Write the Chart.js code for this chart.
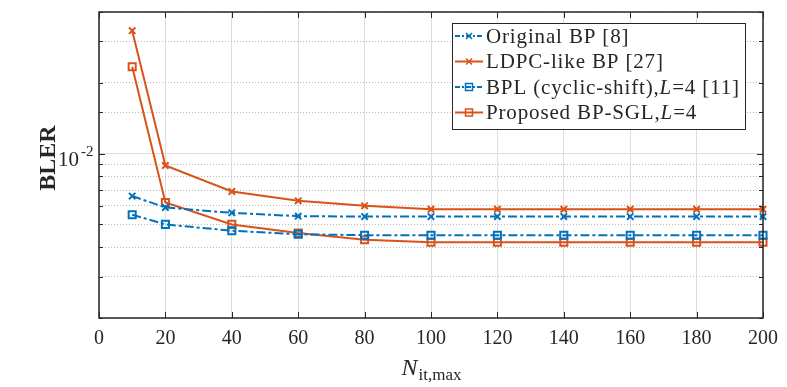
<!DOCTYPE html>
<html>
<head>
<meta charset="utf-8">
<script src="https://cdn.jsdelivr.net/npm/chart.js@4.4.1/dist/chart.umd.min.js"></script>
<style>
  html, body { margin: 0; padding: 0; background: #fff; }
</style>
</head>
<body>
<canvas id="bler" width="787" height="387"></canvas>
<script>
// maximum number of BP iterations
var iterations = [10, 20, 40, 60, 80, 100, 120, 140, 160, 180, 200];

// BLER per decoder
var originalBP  = [0.0066, 0.0059, 0.0056, 0.00542, 0.0054, 0.0054, 0.0054, 0.0054, 0.0054, 0.0054, 0.0054];
var ldpcLikeBP  = [0.0333, 0.0089, 0.0069, 0.0063, 0.0060, 0.0058, 0.0058, 0.0058, 0.0058, 0.0058, 0.0058];
var bplCyclic   = [0.0055, 0.0050, 0.0047, 0.00454, 0.0045, 0.0045, 0.0045, 0.0045, 0.0045, 0.0045, 0.0045];
var proposedSGL = [0.0234, 0.0062, 0.0050, 0.0046, 0.0043, 0.0042, 0.0042, 0.0042, 0.0042, 0.0042, 0.0042];

var xTicks = [0, 20, 40, 60, 80, 100, 120, 140, 160, 180, 200];

var BLUE = '#0072BD';
var ORANGE = '#D95319';
var AXIS = '#262626';
var SERIF = '"Liberation Serif", "DejaVu Serif", serif';
var DASHDOT = [9, 3, 3, 3];

function series(label, values, color, marker, dash) {
  return {
    label: label,
    data: iterations.map(function (it, i) { return { x: it, y: values[i] }; }),
    borderColor: color,
    borderWidth: 2,
    borderDash: dash,
    pointStyle: marker,
    pointRadius: marker === 'rect' ? 5 : 4.5,
    pointBorderWidth: 2,
    pointBorderColor: color,
    pointBackgroundColor: 'rgba(0,0,0,0)',
    fill: false,
    tension: 0,
    clip: false
  };
}

// one legend row: line sample, marker and mixed upright/italic text
var legendRows = [
  { color: BLUE,   dash: DASHDOT, marker: 'x',   parts: [['Original BP [8]', false]] },
  { color: ORANGE, dash: [],      marker: 'x',   parts: [['LDPC-like BP [27]', false]] },
  { color: BLUE,   dash: DASHDOT, marker: 'box', parts: [['BPL (cyclic-shift),', false], ['L', true], ['=4 [11]', false]] },
  { color: ORANGE, dash: [],      marker: 'box', parts: [['Proposed BP-SGL,', false], ['L', true], ['=4', false]] }
];

function drawParts(ctx, parts, x, y, size) {
  ctx.letterSpacing = '0.85px';
  parts.forEach(function (p) {
    ctx.font = (p[1] ? 'italic ' : '') + size + 'px ' + SERIF;
    ctx.fillText(p[0], x, y);
    x += ctx.measureText(p[0]).width;
  });
  ctx.letterSpacing = '0px';
}

var decorations = {
  id: 'decorations',
  afterDraw: function (chart) {
    var ctx = chart.ctx;
    var a = chart.chartArea;
    var xs = chart.scales.x;
    var ys = chart.scales.y;
    ctx.save();

    // inward tick marks on all four sides
    ctx.strokeStyle = AXIS;
    ctx.lineWidth = 1;
    ctx.beginPath();
    xTicks.forEach(function (v) {
      var px = Math.round(xs.getPixelForValue(v)) + 0.5;
      ctx.moveTo(px, a.bottom); ctx.lineTo(px, a.bottom - 6);
      ctx.moveTo(px, a.top); ctx.lineTo(px, a.top + 6);
    });
    ys.ticks.forEach(function (t) {
      var py = Math.round(ys.getPixelForValue(t.value)) + 0.5;
      var len = t.value === 0.01 ? 6 : 4;
      ctx.moveTo(a.left, py); ctx.lineTo(a.left + len, py);
      ctx.moveTo(a.right, py); ctx.lineTo(a.right - len, py);
    });
    ctx.stroke();

    // plot frame
    ctx.lineWidth = 1.5;
    ctx.strokeRect(a.left, a.top, a.right - a.left, a.bottom - a.top);

    // y tick label 10^-2
    var y2 = ys.getPixelForValue(0.01);
    ctx.fillStyle = AXIS;
    ctx.textBaseline = 'alphabetic';
    ctx.textAlign = 'left';
    ctx.font = '21px ' + SERIF;
    ctx.fillText('10', 58, y2 + 12);
    ctx.font = '15px ' + SERIF;
    ctx.fillText('-2', 81, y2 + 2);

    // y axis title
    ctx.save();
    ctx.translate(55, 158);
    ctx.rotate(-Math.PI / 2);
    ctx.textAlign = 'center';
    ctx.font = 'bold 24px ' + SERIF;
    ctx.fillText('BLER', 0, 0);
    ctx.restore();

    // x axis title N_it,max
    ctx.font = 'italic 24px ' + SERIF;
    var wN = ctx.measureText('N').width;
    ctx.font = '17px ' + SERIF;
    var wSub = ctx.measureText('it,max').width;
    var cx = (a.left + a.right) / 2;
    var x0 = cx - (wN + wSub) / 2;
    ctx.font = 'italic 24px ' + SERIF;
    ctx.fillText('N', x0, 375);
    ctx.font = '17px ' + SERIF;
    ctx.fillText('it,max', x0 + wN + 1, 380);

    // legend box
    var bx = 452, by = 23, bw = 293, bh = 106;
    ctx.fillStyle = '#fff';
    ctx.fillRect(bx, by, bw, bh);
    ctx.strokeStyle = AXIS;
    ctx.lineWidth = 1;
    ctx.strokeRect(bx + 0.5, by + 0.5, bw, bh);
    legendRows.forEach(function (r, i) {
      var ry = by + 13 + i * 25.5;
      ctx.strokeStyle = r.color;
      ctx.lineWidth = 2;
      ctx.setLineDash(r.dash.length ? [5, 2, 2, 2] : []);
      ctx.beginPath();
      ctx.moveTo(455, ry); ctx.lineTo(483, ry);
      ctx.stroke();
      ctx.setLineDash([]);
      ctx.lineWidth = 1.5;
      ctx.beginPath();
      if (r.marker === 'x') {
        ctx.moveTo(466, ry - 3); ctx.lineTo(472, ry + 3);
        ctx.moveTo(472, ry - 3); ctx.lineTo(466, ry + 3);
      } else {
        ctx.rect(465.5, ry - 3.5, 7, 7);
      }
      ctx.stroke();
      ctx.fillStyle = AXIS;
      ctx.textBaseline = 'middle';
      drawParts(ctx, r.parts, 486, ry + 1, 21);
    });
    ctx.restore();
  }
};

new Chart(document.getElementById('bler'), {
  type: 'line',
  data: {
    datasets: [
      series('Original BP [8]', originalBP, BLUE, 'crossRot', DASHDOT),
      series('LDPC-like BP [27]', ldpcLikeBP, ORANGE, 'crossRot', []),
      series('BPL (cyclic-shift),L=4 [11]', bplCyclic, BLUE, 'rect', DASHDOT),
      series('Proposed BP-SGL,L=4', proposedSGL, ORANGE, 'rect', [])
    ]
  },
  options: {
    responsive: false,
    animation: false,
    devicePixelRatio: 1,
    layout: { padding: { left: 99, right: 21, top: 12, bottom: 27 } },
    plugins: {
      legend: { display: false },
      tooltip: { enabled: false }
    },
    scales: {
      x: {
        type: 'linear',
        min: 0,
        max: 200,
        afterBuildTicks: function (scale) {
          scale.ticks = xTicks.map(function (v) { return { value: v }; });
        },
        ticks: {
          color: AXIS,
          padding: 9,
          maxRotation: 0,
          autoSkip: false,
          font: { family: SERIF, size: 20 }
        },
        grid: { color: '#dedede', lineWidth: 1, drawTicks: false },
        border: { display: false }
      },
      y: {
        type: 'logarithmic',
        min: 0.002,
        max: 0.04,
        ticks: { display: false, autoSkip: false },
        grid: {
          drawTicks: false,
          lineWidth: 1,
          color: function (c) {
            return c.tick && c.tick.value === 0.01 ? '#dedede' : '#b8b8b8';
          }
        },
        border: {
          display: false,
          dash: function (c) {
            return c.tick && c.tick.value === 0.01 ? [] : [1, 2];
          }
        }
      }
    }
  },
  plugins: [decorations]
});
</script>
</body>
</html>
